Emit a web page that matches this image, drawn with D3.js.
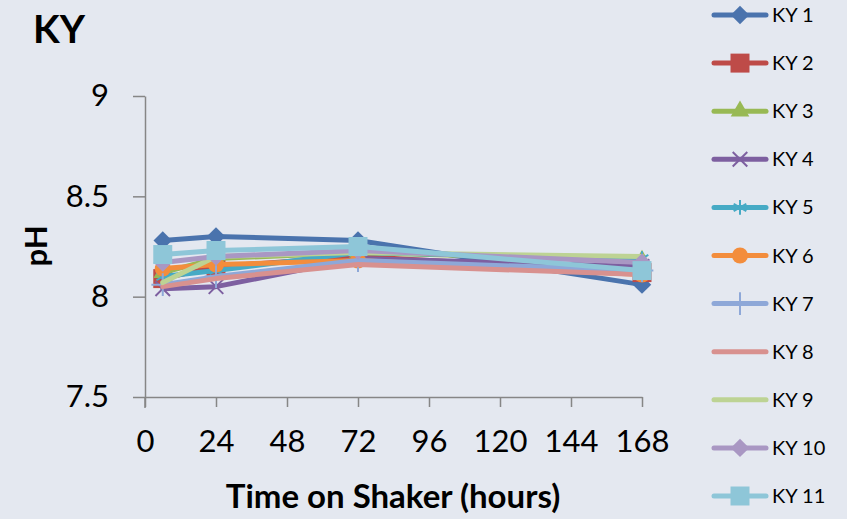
<!DOCTYPE html>
<html>
<head>
<meta charset="utf-8">
<script src="https://cdn.jsdelivr.net/npm/d3@7"></script>
<style>
  body { margin: 0; background: #e4e8f0; }
  svg text { font-family: Lato, "Open Sans", sans-serif; fill: #000; }
</style>
</head>
<body>
<svg id="chart"></svg>
<script>
const width = 847;
const height = 519;

// data
const hours = [6, 24, 72, 168];
const seriesNames = ["KY 1", "KY 2", "KY 3", "KY 4", "KY 5", "KY 6", "KY 7", "KY 8", "KY 9", "KY 10", "KY 11"];
const ky1 = [8.28, 8.30, 8.28, 8.06];
const ky2 = [8.09, 8.15, 8.20, 8.12];
const ky3 = [8.12, 8.19, 8.22, 8.18];
const ky4 = [8.04, 8.05, 8.19, 8.15];
const ky5 = [8.10, 8.13, 8.22, 8.19];
const ky6 = [8.14, 8.16, 8.18, 8.11];
const ky7 = [8.06, 8.10, 8.18, 8.13];
const ky8 = [8.05, 8.09, 8.16, 8.11];
const ky9 = [8.07, 8.20, 8.22, 8.20];
const ky10 = [8.17, 8.20, 8.23, 8.17];
const ky11 = [8.21, 8.23, 8.25, 8.13];
const xTicks = [0, 24, 48, 72, 96, 120, 144, 168];
const yTicks = [7.5, 8, 8.5, 9];

const allValues = [ky1, ky2, ky3, ky4, ky5, ky6, ky7, ky8, ky9, ky10, ky11];
const colors = ["#4a73ad", "#be4b48", "#98b954", "#7d5fa0", "#46aac5", "#f38d3c",
                "#8ea8d8", "#d8918f", "#bdd394", "#a997c3", "#8ec6d8"];
const markers = ["diamond", "square", "triangle", "times", "asterisk", "circle",
                 "plus", null, null, "diamond", "square"];

const svg = d3.select("#chart")
    .attr("width", width)
    .attr("height", height);

svg.append("rect").attr("width", width).attr("height", height).attr("fill", "#e4e8f0");

const x = d3.scaleLinear().domain([0, 168]).range([145, 642]);
const y = d3.scaleLinear().domain([7.5, 9]).range([397, 96]);

// axes
const axisColor = "#868686";
const xAxis = svg.append("g")
    .attr("transform", "translate(0,397)")
    .call(d3.axisBottom(x).tickValues(xTicks).tickSize(10).tickPadding(23).tickSizeOuter(0));
const yAxis = svg.append("g")
    .attr("transform", "translate(145,0)")
    .call(d3.axisLeft(y).tickValues(yTicks).tickSize(12).tickPadding(24).tickSizeOuter(0).tickFormat(d3.format("")));

[xAxis, yAxis].forEach(g => {
    g.select(".domain").attr("stroke", axisColor).attr("stroke-width", 1.5);
    g.selectAll(".tick line").attr("stroke", axisColor).attr("stroke-width", 1.5);
    g.selectAll(".tick text").style("font-size", "31px").attr("fill", "#000");
});
// y axis runs a bit below the x axis
svg.append("line").attr("x1", 145).attr("x2", 145).attr("y1", 397).attr("y2", 408)
    .attr("stroke", axisColor).attr("stroke-width", 1.5);

// Excel style diamond: a square turned 45 degrees
const diamondSym = {
    draw(context, size) {
        const r = Math.sqrt(size / 2);
        context.moveTo(0, -r);
        context.lineTo(r, 0);
        context.lineTo(0, r);
        context.lineTo(-r, 0);
        context.closePath();
    }
};

function markerPath(type, size) {
    const types = {
        diamond: diamondSym, square: d3.symbolSquare, triangle: d3.symbolTriangle,
        times: d3.symbolTimes, asterisk: d3.symbolAsterisk, circle: d3.symbolCircle, plus: d3.symbolPlus
    };
    return d3.symbol(types[type], size)();
}
const strokeMarkers = ["times", "asterisk", "plus"];
const markerSize = { diamond: 170, square: 360, triangle: 150, times: 140, asterisk: 150, circle: 200, plus: 170 };

function drawMarker(g, type, color, cx, cy) {
    if (!type) return;
    const p = g.append("path")
        .attr("d", markerPath(type, markerSize[type]))
        .attr("transform", `translate(${cx},${cy})`);
    if (strokeMarkers.includes(type)) {
        p.attr("fill", "none").attr("stroke", color).attr("stroke-width", 2);
    } else {
        p.attr("fill", color);
    }
}

const line = d3.line().x((d, i) => x(hours[i])).y(d => y(d));

allValues.forEach((vals, s) => {
    const g = svg.append("g");
    g.append("path")
        .attr("d", line(vals))
        .attr("fill", "none")
        .attr("stroke", colors[s])
        .attr("stroke-width", 5)
        .attr("stroke-linejoin", "round")
        .attr("stroke-linecap", "round");
    vals.forEach((v, i) => drawMarker(g, markers[s], colors[s], x(hours[i]), y(v)));
});

// titles
svg.append("text").attr("x", 33).attr("y", 43)
    .style("font-size", "39px").style("font-weight", "bold").text("KY");
svg.append("text").attr("x", 393).attr("y", 508).attr("text-anchor", "middle")
    .style("font-size", "33px").style("font-weight", "bold").text("Time on Shaker (hours)");
svg.append("text").attr("transform", "translate(47,246) rotate(-90)").attr("text-anchor", "middle")
    .style("font-size", "31px").style("font-weight", "bold").text("pH");

// legend
const legendY = d3.scalePoint().domain(seriesNames).range([15, 496]);
seriesNames.forEach((name, s) => {
    const ly = legendY(name);
    const g = svg.append("g");
    g.append("line").attr("x1", 714).attr("x2", 766).attr("y1", ly).attr("y2", ly)
        .attr("stroke", colors[s]).attr("stroke-width", 5).attr("stroke-linecap", "round");
    drawMarker(g, markers[s], colors[s], 740, ly);
    g.append("text").attr("x", 772).attr("y", ly + 7).style("font-size", "20px").text(name);
});
</script>
</body>
</html>
